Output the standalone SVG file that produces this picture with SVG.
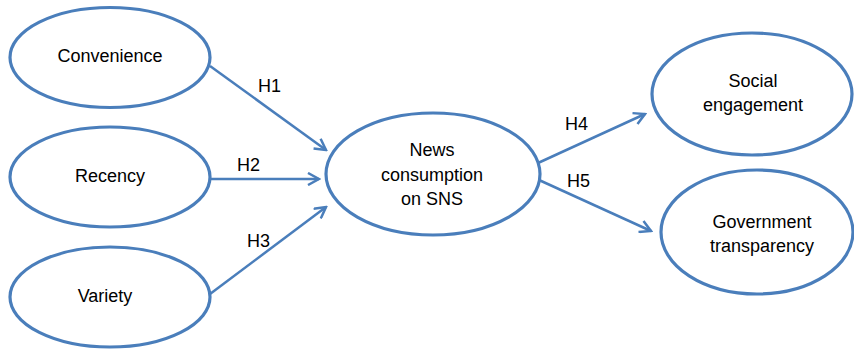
<svg xmlns="http://www.w3.org/2000/svg" width="854" height="349" viewBox="0 0 854 349">
<defs>
<style>
.n{fill:#fff;stroke:#4a7ebb;stroke-width:3.2}
.c{stroke:#4a7ebb;stroke-width:2.5;fill:none}
text{font-family:"Liberation Sans",Arial,sans-serif;font-size:18px;fill:#000}
.m{text-anchor:middle}
</style>
<marker id="ah" viewBox="0 0 14 14" refX="12" refY="7" markerWidth="14" markerHeight="14" markerUnits="userSpaceOnUse" orient="auto">
<path d="M1,1 L12,7 L1,13" fill="none" stroke="#4a7ebb" stroke-width="2.5"/>
</marker>
</defs>
<rect width="854" height="349" fill="#fff"/>
<g id="connectors">
<line class="c" x1="210" y1="66" x2="326" y2="150" marker-end="url(#ah)"/>
<line class="c" x1="210" y1="179" x2="319" y2="179" marker-end="url(#ah)"/>
<line class="c" x1="210" y1="294" x2="326" y2="207" marker-end="url(#ah)"/>
<line class="c" x1="538" y1="163" x2="645" y2="114" marker-end="url(#ah)"/>
<line class="c" x1="539" y1="180" x2="651" y2="231" marker-end="url(#ah)"/>
<text x="258" y="92">H1</text>
<text x="237" y="171">H2</text>
<text x="247" y="247">H3</text>
<text x="565" y="130">H4</text>
<text x="567" y="187">H5</text>
</g>
<g id="convenience">
<ellipse class="n" cx="110" cy="57.5" rx="100" ry="50"/>
<text class="m" x="110" y="62">Convenience</text>
</g>
<g id="recency">
<ellipse class="n" cx="110" cy="177" rx="100" ry="50"/>
<text class="m" x="110" y="182">Recency</text>
</g>
<g id="variety">
<ellipse class="n" cx="110" cy="297" rx="100" ry="50"/>
<text class="m" x="105" y="302">Variety</text>
</g>
<g id="news">
<ellipse class="n" cx="433" cy="174" rx="107" ry="61"/>
<text class="m" x="432" y="156">News</text>
<text class="m" x="432" y="180.5">consumption</text>
<text class="m" x="432" y="205">on SNS</text>
</g>
<g id="social">
<ellipse class="n" cx="752" cy="94" rx="100" ry="61"/>
<text class="m" x="753" y="87">Social</text>
<text class="m" x="753" y="111">engagement</text>
</g>
<g id="government">
<ellipse class="n" cx="757" cy="232" rx="96" ry="62"/>
<text class="m" x="762" y="228">Government</text>
<text class="m" x="762" y="252">transparency</text>
</g>
</svg>
